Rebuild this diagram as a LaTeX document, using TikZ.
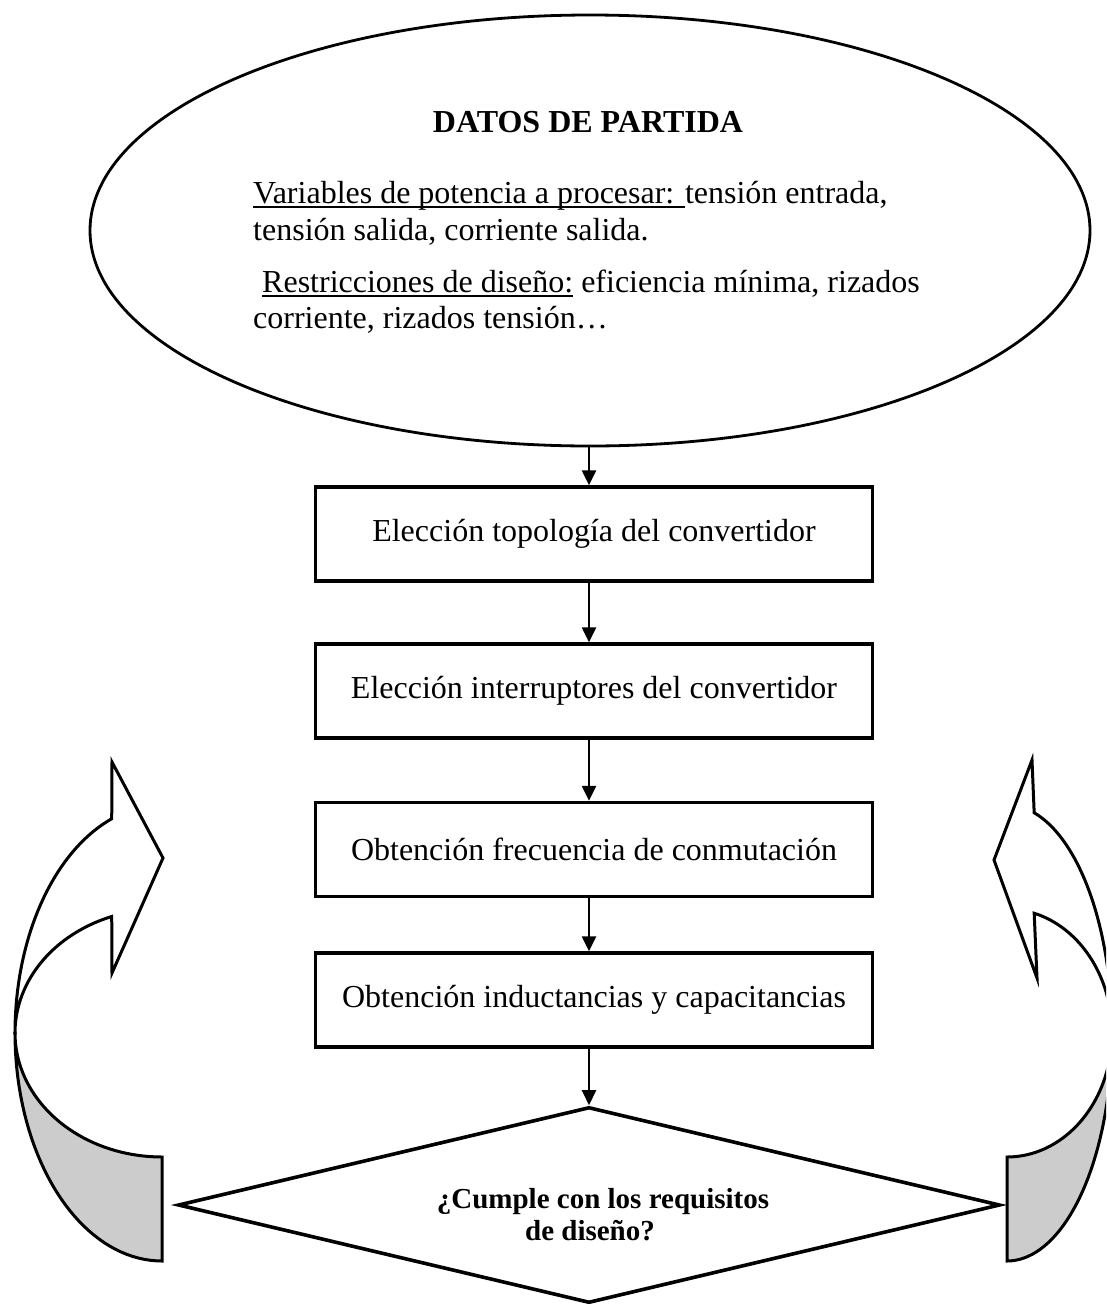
\documentclass[tikz,border=0pt]{standalone}
\usepackage{fontspec}
\setmainfont{Liberation Serif}
\usetikzlibrary{shapes.geometric,arrows.meta}
\newcommand\ulx[1]{\setbox0\hbox{#1}\rlap{\rule[-5pt]{\wd0}{2pt}}\box0\relax}
\begin{document}
\begin{tikzpicture}[x=1pt,y=-1pt,
  stepbox/.style={draw, line width=3.4pt, minimum width=557pt, minimum height=94pt, inner sep=0pt, font=\fontsize{32}{38}\selectfont},
  conn/.style={line width=2.4pt, -{Triangle[length=15pt,width=14pt]}},
  txt/.style={anchor=base west, inner sep=0pt, font=\fontsize{32}{38}\selectfont},
  qtxt/.style={anchor=base, inner sep=0pt, font=\bfseries\fontsize{29}{32}\selectfont},
  curv/.style={line width=3pt, line join=miter}
]
\useasboundingbox (0,0) rectangle (1106,1304);
\clip (0,0) rectangle (1106,1304);
\fill[white] (0,0) rectangle (1106,1304);

% start ellipse
\node[draw, ellipse, line width=2.8pt, minimum width=1000pt, minimum height=431pt, inner sep=0pt] (ell) at (590,230.5) {};
\node[anchor=base, inner sep=0pt, font=\bfseries\fontsize{32}{38}\selectfont] (title) at (588,132) {DATOS DE PARTIDA};
\node[txt] (l1) at (253,203) {\ulx{Variables de potencia a procesar: }tensión entrada,};
\node[txt] (l2) at (253,240) {tensión salida, corriente salida.};
\node[txt] (l3) at (262,292) {\ulx{Restricciones de diseño:} eficiencia mínima, rizados};
\node[txt] (l4) at (253,328) {corriente, rizados tensión…};

% boxes
\node[stepbox] (b1) at (594,534) {Elección topología del convertidor};
\node[stepbox] (b2) at (594,691) {Elección interruptores del convertidor};
\node[stepbox] (b3) at (594,849.5) {Obtención frecuencia de conmutación};
\node[stepbox] (b4) at (594,1000) {Obtención inductancias y capacitancias};

% decision
\node[draw, diamond, line width=3.6pt, minimum width=822pt, minimum height=196pt, aspect=4.2, inner sep=0pt] (dec) at (589,1205) {};
\node[qtxt] (q1) at (603,1208) {¿Cumple con los requisitos};
\node[qtxt] (q2) at (590,1240) {de diseño?};

% connectors
\draw[conn] (ell.south -| dec.north) -- (b1.north -| dec.north);
\draw[conn] (b1.south -| dec.north) -- (b2.north -| dec.north);
\draw[conn] (b2.south -| dec.north) -- (b3.north -| dec.north);
\draw[conn] (b3.south -| dec.north) -- (b4.north -| dec.north);
\draw[conn] (b4.south -| dec.north) -- (dec.north);

% left curved arrow
\filldraw[curv, fill=white] plot[domain=180:250, samples=40] ({162+147*cos(\x)},{1033+228*sin(\x)})
  -- (112,762) -- (163,858) -- (112,973)
  -- plot[domain=250:180, samples=40] ({162+147*cos(\x)},{1033+124*sin(\x)}) -- cycle;
\filldraw[curv, fill=gray!40] plot[domain=180:90, samples=40] ({162+147*cos(\x)},{1033+124*sin(\x)})
  -- (162,1261)
  -- plot[domain=90:180, samples=40] ({162+147*cos(\x)},{1033+228*sin(\x)}) -- cycle;

% right curved arrow
\filldraw[curv, fill=white] plot[domain=180:255, samples=40] ({1007-105*cos(\x)},{1033+228*sin(\x)})
  -- (1032,760) -- (994,860) -- (1037,978)
  -- plot[domain=255:180, samples=40] ({1007-105*cos(\x)},{1033+124*sin(\x)}) -- cycle;
\filldraw[curv, fill=gray!40] plot[domain=180:90, samples=40] ({1007-105*cos(\x)},{1033+124*sin(\x)})
  -- (1007,1261)
  -- plot[domain=90:180, samples=40] ({1007-105*cos(\x)},{1033+228*sin(\x)}) -- cycle;
\end{tikzpicture}
\end{document}
